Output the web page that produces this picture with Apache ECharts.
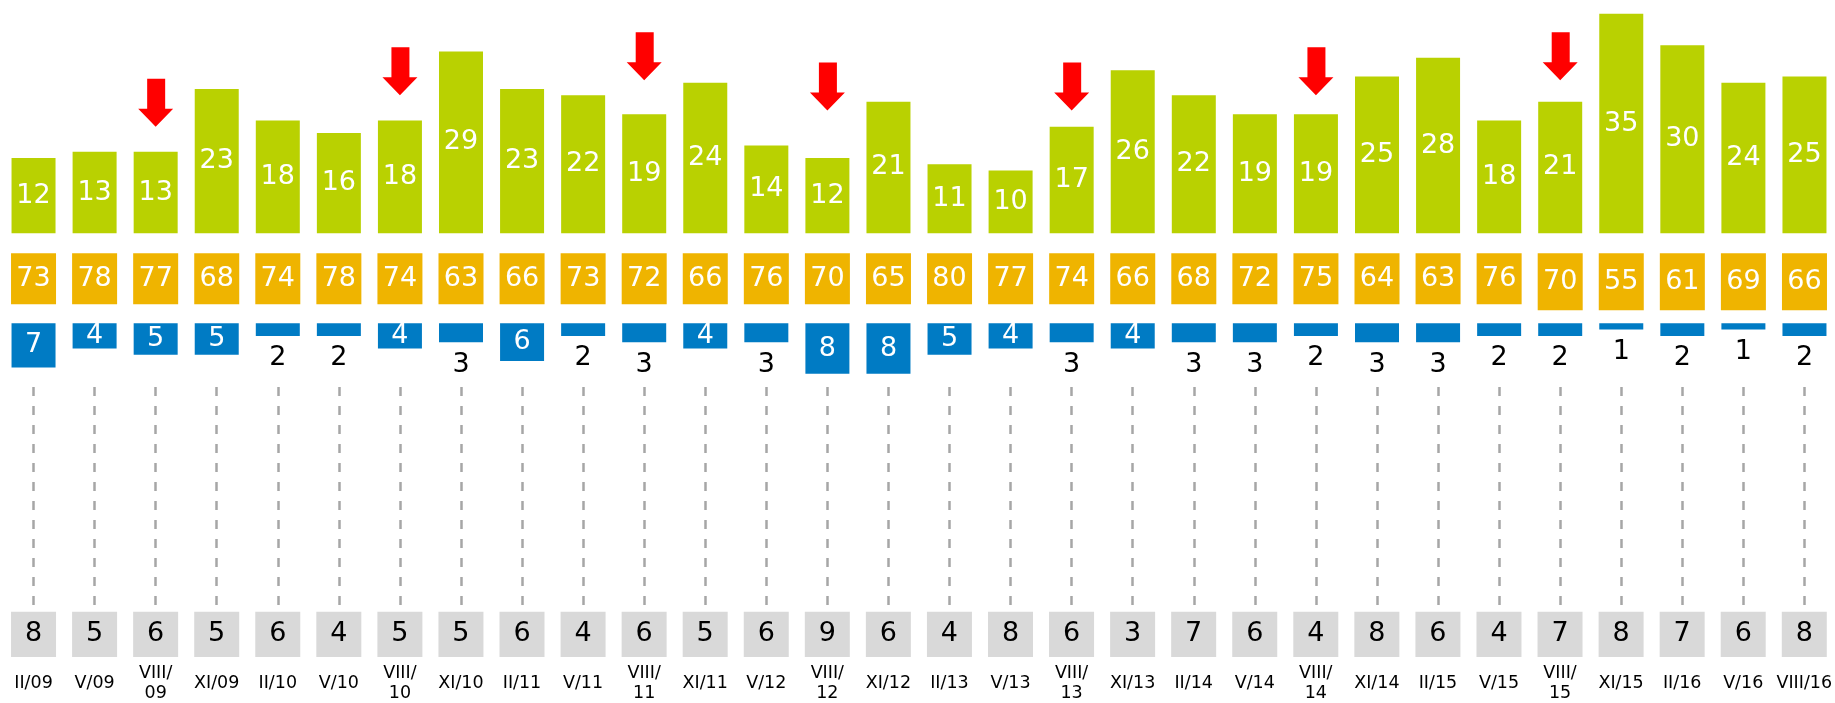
<!DOCTYPE html>
<html>
<head>
<meta charset="utf-8">
<script src="https://cdn.jsdelivr.net/npm/echarts@6/dist/echarts.min.js"></script>
<style>
  html, body { margin: 0; padding: 0; background: #fff; }
  #chart { width: 1835px; height: 703px; }
</style>
</head>
<body>
<div id="chart"></div>
<script>
const categories = ['II/09','V/09','VIII/09','XI/09','II/10','V/10','VIII/10','XI/10','II/11','V/11',
  'VIII/11','XI/11','V/12','VIII/12','XI/12','II/13','V/13','VIII/13','XI/13','II/14',
  'V/14','VIII/14','XI/14','II/15','V/15','VIII/15','XI/15','II/16','V/16','VIII/16'];
const greenVals = [12,13,13,23,18,16,18,29,23,22,19,24,14,12,21,11,10,17,26,22,19,19,25,28,18,21,35,30,24,25];
const orangeVals = [73,78,77,68,74,78,74,63,66,73,72,66,76,70,65,80,77,74,66,68,72,75,64,63,76,70,55,61,69,66];
const blueVals = [7,4,5,5,2,2,4,3,6,2,3,4,3,8,8,5,4,3,4,3,3,2,3,3,2,2,1,2,1,2];
const grayVals = [8,5,6,5,6,4,5,5,6,4,6,5,6,9,6,4,8,6,3,7,6,4,8,6,4,7,8,7,6,8];
// red arrows: category and the level (green scale) where the tip points
const arrowCats = ['VIII/09','VIII/10','VIII/11','VIII/12','VIII/13','VIII/14','VIII/15'];
const arrowTips = [17, 22, 24.4, 19.6, 19.6, 22, 24.4];

const FONT = 'DejaVu Sans';
const NUM_SIZE = 27;
const GREEN = '#b9d101', ORANGE = '#efb400', BLUE = '#007bc4', GRAY = '#d9d9d9';
const tallFrom = 25; // last boxes of the orange row are drawn a bit taller

const chart = echarts.init(document.getElementById('chart'));

const gridBase = { left: 3, width: 1837 };
const xCat = (gi, extra) => Object.assign({
  type: 'category', gridIndex: gi, data: categories,
  axisLine: { show: false }, axisTick: { show: false }, axisLabel: { show: false },
  splitLine: { show: false }
}, extra || {});
const yVal = (gi, extra) => Object.assign({
  type: 'value', gridIndex: gi, min: 0, show: false, splitLine: { show: false }
}, extra || {});

const boxLabel = (arr, color) => ({
  show: true, position: 'inside', color: color, fontSize: NUM_SIZE, fontFamily: FONT,
  formatter: p => String(arr[p.dataIndex])
});

chart.setOption({
  animation: false,
  grid: [
    Object.assign({ top: 0, height: 233.3 }, gridBase),   // green
    Object.assign({ top: 253.3, height: 51 }, gridBase),  // orange
    Object.assign({ top: 323.3, height: 60 }, gridBase),  // blue
    Object.assign({ top: 383, height: 222 }, gridBase),   // dashed
    Object.assign({ top: 611.7, height: 55 }, gridBase)   // gray
  ],
  xAxis: [
    xCat(0), xCat(1), xCat(2),
    xCat(3, {
      axisTick: { show: true, alignWithLabel: true, inside: true, length: 222,
        lineStyle: { color: '#a6a6a6', width: 2.5, type: [9, 10] } }
    }),
    xCat(4, {
      axisLabel: {
        show: true, interval: 0, color: '#000', fontSize: 17.5, fontFamily: FONT,
        margin: 26, verticalAlign: 'middle', lineHeight: 20,
        formatter: (v, i) => (v.indexOf('VIII/') === 0 && i < categories.length - 1) ? v.replace('/', '/\n') : v
      }
    })
  ],
  yAxis: [
    yVal(0, { max: 233.3 / 6.27 }),
    yVal(1, { max: 1, inverse: true }),
    yVal(2, { max: 60 / 6.3, inverse: true }),
    yVal(3, { max: 1 }),
    yVal(4, { max: 1, inverse: true })
  ],
  series: [
    {
      type: 'bar', xAxisIndex: 0, yAxisIndex: 0, barWidth: 44,
      itemStyle: { color: GREEN },
      label: { show: true, position: 'inside', color: '#fff', fontSize: NUM_SIZE, fontFamily: FONT },
      data: greenVals
    },
    {
      type: 'scatter', xAxisIndex: 0, yAxisIndex: 0, z: 5,
      symbol: 'path://M9,0 L27,0 L27,30 L35,30 L17.5,48 L0,30 L9,30 Z',
      symbolSize: [35, 48], symbolOffset: [0, -24],
      itemStyle: { color: '#ff0000', opacity: 1 },
      data: arrowCats.map((c, i) => [c, arrowTips[i]])
    },
    {
      type: 'bar', xAxisIndex: 1, yAxisIndex: 1, barWidth: 45, clip: false,
      itemStyle: { color: ORANGE },
      label: boxLabel(orangeVals, '#fff'),
      data: orangeVals.map((v, i) => i >= tallFrom ? 57 / 51 : 1)
    },
    {
      type: 'bar', xAxisIndex: 2, yAxisIndex: 2, barWidth: 44,
      itemStyle: { color: BLUE },
      data: blueVals.map(v => ({
        value: v,
        label: v >= 4
          ? { show: true, position: 'inside', color: '#fff', fontSize: NUM_SIZE, fontFamily: FONT }
          : { show: true, position: 'bottom', distance: 9, color: '#000', fontSize: NUM_SIZE, fontFamily: FONT }
      }))
    },
    {
      type: 'bar', xAxisIndex: 4, yAxisIndex: 4, barWidth: 45,
      itemStyle: { color: GRAY },
      label: boxLabel(grayVals, '#000'),
      data: grayVals.map(() => 1)
    }
  ]
});
</script>
</body>
</html>
